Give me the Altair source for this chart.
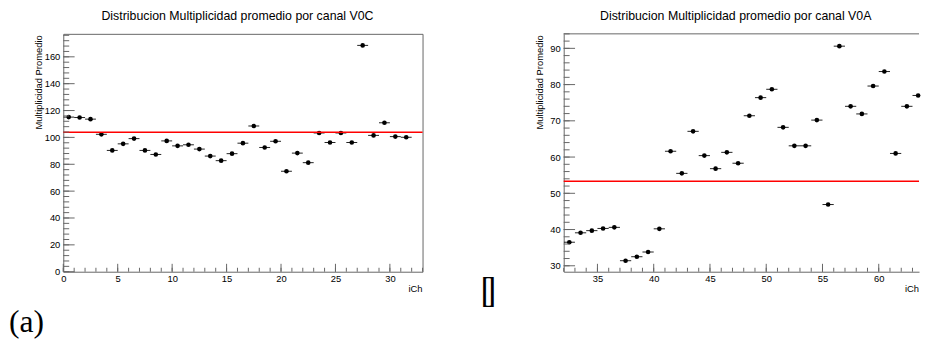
import altair as alt
import pandas as pd

# ---------------- data ----------------
channels_v0c = [0, 1, 2, 3, 4, 5, 6, 7, 8, 9, 10, 11, 12, 13, 14, 15,
                16, 17, 18, 19, 20, 21, 22, 23, 24, 25, 26, 27, 28, 29, 30, 31]
mult_v0c = [115.1, 114.8, 113.6, 102.3, 90.3, 95.2, 99.1, 90.3, 87.3, 97.4, 93.7,
            94.5, 91.3, 86.1, 82.7, 87.9, 95.7, 108.5, 92.5, 97.1, 74.8, 88.3,
            81.2, 103.3, 96.2, 103.3, 96.2, 168.5, 101.5, 110.9, 100.6, 100.1]
mean_v0c = 103.8

channels_v0a = [32, 33, 34, 35, 36, 37, 38, 39, 40, 41, 42, 43, 44, 45, 46, 47,
                48, 49, 50, 51, 52, 53, 54, 55, 56, 57, 58, 59, 60, 61, 62, 63]
mult_v0a = [36.5, 39.1, 39.7, 40.3, 40.6, 31.4, 32.5, 33.8, 40.2, 61.6, 55.5,
            67.1, 60.4, 56.8, 61.3, 58.3, 71.4, 76.4, 78.7, 68.2, 63.1, 63.1,
            70.2, 46.9, 90.6, 74.0, 71.9, 79.6, 83.6, 61.0, 74.0, 77.0]
mean_v0a = 53.3

title_v0c = "Distribucion Multiplicidad promedio por canal V0C"
title_v0a = "Distribucion Multiplicidad promedio por canal V0A"
y_title = "Multiplicidad Promedio"
x_title = "iCh"
sub_label = "(a)"

v0c_x_major = [0, 5, 10, 15, 20, 25, 30]
v0c_x_minor = list(range(0, 34))
v0c_y_major = [0, 20, 40, 60, 80, 100, 120, 140, 160]
v0c_y_minor = list(range(0, 177, 4))
v0a_x_major = [35, 40, 45, 50, 55, 60]
v0a_x_minor = list(range(32, 64))
v0a_y_major = [30, 40, 50, 60, 70, 80, 90]
v0a_y_minor = list(range(30, 95, 2))

FONT = "Liberation Sans"
FRAME = "#666666"
H = 241


def text_layer(txt, x, y, size, align="center", baseline="middle", font=FONT):
    return alt.Chart(pd.DataFrame({"txt": [txt]})).mark_text(
        align=align, baseline=baseline, font=font, fontSize=size, color="black"
    ).encode(text="txt:N", x=alt.value(x), y=alt.value(y))


def panel(channels, values, mean, xdom, ydom, W, xmaj, xmin, ymaj, ymin,
          title, title_cx, ytitle_x, framed, extras):
    df = pd.DataFrame({"ch": channels, "val": values})
    df["center"] = df["ch"] + 0.5
    df["lo"] = df["ch"]
    df["hi"] = df["ch"] + 1
    xs = alt.Scale(domain=xdom, nice=False, zero=False)
    ys = alt.Scale(domain=ydom, nice=False, zero=False)
    xaxis = alt.Axis(values=xmaj, ticks=False, tickSize=0, grid=False,
                     domain=not framed, domainColor=FRAME, domainWidth=1,
                     labelFont=FONT, labelFontSize=9.5, labelColor="black",
                     labelPadding=2.2, labelFlush=False, labelOverlap=False,
                     title=None)
    yaxis = alt.Axis(values=ymaj, ticks=False, tickSize=0, grid=False,
                     domain=not framed, domainColor=FRAME, domainWidth=1,
                     labelFont=FONT, labelFontSize=9.5, labelColor="black",
                     labelPadding=3.5, labelFlush=False, labelOverlap=False,
                     title=y_title, titleFont=FONT, titleFontSize=9.5,
                     titleFontWeight="normal", titleColor="black",
                     titleAngle=270, titleAlign="right", titleBaseline="middle",
                     titleX=ytitle_x, titleY=1)

    base = alt.Chart(df)
    errbars = base.mark_rule(color="#222222", strokeWidth=1, clip=True).encode(
        x=alt.X("lo:Q", scale=xs, axis=xaxis), x2="hi:Q",
        y=alt.Y("val:Q", scale=ys, axis=yaxis))
    points = base.mark_circle(size=22, color="black", opacity=1).encode(
        x=alt.X("center:Q", scale=xs, axis=xaxis),
        y=alt.Y("val:Q", scale=ys, axis=yaxis))
    mean_line = alt.Chart(pd.DataFrame({"m": [mean]})).mark_rule(
        color="#ff0000", strokeWidth=1.5).encode(
        y=alt.Y("m:Q", scale=ys, axis=yaxis))

    def xticks(vals, length):
        return alt.Chart(pd.DataFrame({"t": vals})).mark_rule(
            color=FRAME, strokeWidth=1).encode(
            x=alt.X("t:Q", scale=xs, axis=xaxis),
            y=alt.value(H), y2=alt.value(H - length))

    def yticks(vals, length):
        return alt.Chart(pd.DataFrame({"t": vals})).mark_rule(
            color=FRAME, strokeWidth=1).encode(
            y=alt.Y("t:Q", scale=ys, axis=yaxis),
            x=alt.value(0), x2=alt.value(length))

    layers = [errbars, points, mean_line,
              xticks(xmaj, 8), xticks(xmin, 4), yticks(ymaj, 11.5), yticks(ymin, 6),
              text_layer(title, title_cx, -14.3, 12.5, baseline="alphabetic"),
              text_layer(x_title, W, 258.3, 9.5, align="right")]
    if not framed:
        layers.append(alt.Chart(pd.DataFrame({"a": [0]})).mark_rule(
            color=FRAME, strokeWidth=1).encode(
            x=alt.value(0), x2=alt.value(W), y=alt.value(0)))
    layers += extras
    return alt.layer(*layers).properties(
        width=W, height=H,
        view=alt.ViewBackground(stroke=FRAME if framed else "transparent",
                                strokeWidth=1))


left = panel(channels_v0c, mult_v0c, mean_v0c, [0, 33], [0, 177.1], 364,
             v0c_x_major, v0c_x_minor, v0c_y_major, v0c_y_minor,
             title_v0c, 176.5, -25, True,
             [text_layer(sub_label, -55, 302, 32, align="left",
                         baseline="alphabetic", font="Liberation Serif")])

right = panel(channels_v0a, mult_v0a, mean_v0a, [32, 63.58], [28.36, 94.0], 360,
              v0a_x_major, v0a_x_minor, v0a_y_major, v0a_y_minor,
              title_v0a, 174.3, -24, False,
              [text_layer("[", -84.4, 272, 36, align="left",
                          baseline="alphabetic", font="Liberation Serif"),
               text_layer("]", -68.3, 272, 36, align="right",
                          baseline="alphabetic", font="Liberation Serif")])

chart = alt.hconcat(left, right, spacing=56).properties(
    padding={"left": 0, "top": -1, "right": 0, "bottom": 0}
).configure(font=FONT).configure_view(strokeWidth=1)

chart.save("out.html", embed_options={"renderer": "svg", "actions": False})
